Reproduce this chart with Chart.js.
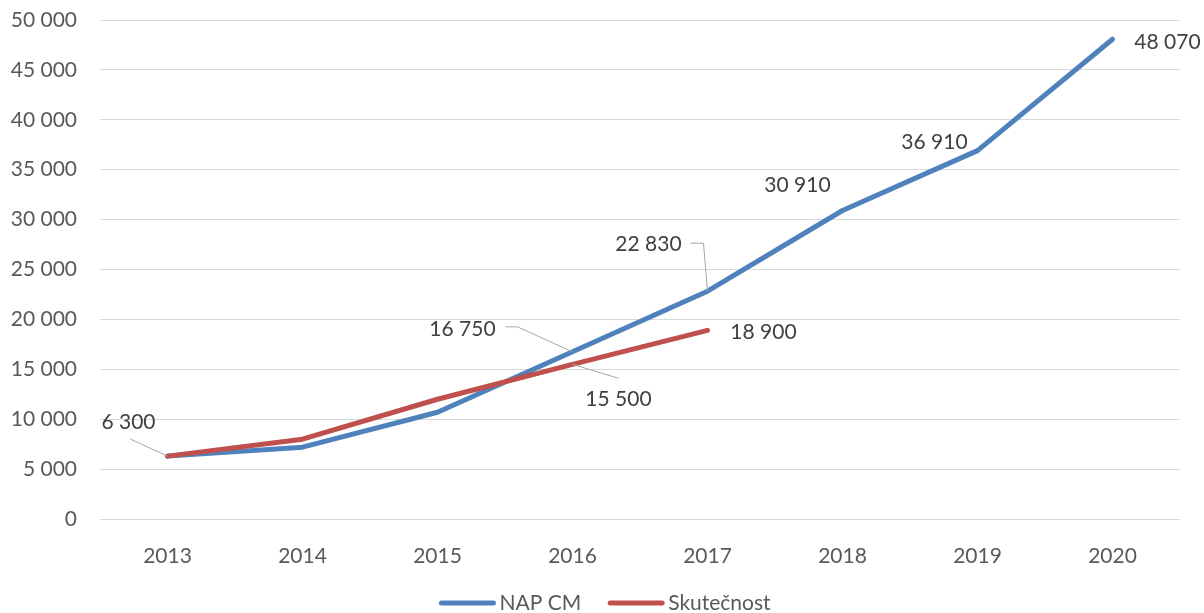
<!DOCTYPE html>
<html>
<head>
<meta charset="utf-8">
<title>NAP CM vs Skutečnost</title>
<script src="https://cdn.jsdelivr.net/npm/chart.js@4"></script>
<style>
    body { margin: 0; background: #fff; }
    canvas { display: block; }
</style>
</head>
<body>
<canvas id="lineCanvas" width="1204" height="613"></canvas>
<script>
// data
var years = ["2013", "2014", "2015", "2016", "2017", "2018", "2019", "2020"];
var napCm = [6300, 7200, 10700, 16750, 22830, 30910, 36910, 48070];
var skutecnost = [6300, 8000, 12000, 15500, 18900, null, null, null];
var seriesNames = ["NAP CM", "Skutečnost"];
var yMin = 0;
var yMax = 50000;
var yStep = 5000;

// which points carry a value label
var napLabelIdx = [0, 3, 4, 5, 6, 7];
var skutLabelIdx = [3, 4];

// label placement relative to its point (dx, dy of the text centre) and leader polyline
var labelPos = {
    "0-0": { dx: -39, dy: -34, leader: [[-37, -17], [0, 0]] },
    "0-3": { dx: -110, dy: -23, leader: [[-67, -25], [-55, -25], [0, 0]] },
    "0-4": { dx: -59, dy: -47, leader: [[-17, -48], [-4, -48], [0, 0]] },
    "0-5": { dx: -45, dy: -25 },
    "0-6": { dx: -43, dy: -8 },
    "0-7": { dx: 55, dy: 3 },
    "1-3": { dx: 46, dy: 35, leader: [[0, 0], [46, 14]] },
    "1-4": { dx: 56, dy: 2 }
};

var blue = "#4f81bd";
var red = "#c0504d";
var fontName = "Lato, 'Open Sans', sans-serif";

function fmt(v) {
    return String(v).replace(/\B(?=(\d{3})+(?!\d))/g, " ");
}

// hodnoty u bodů
var pointLabels = {
    id: "pointLabels",
    afterDatasetsDraw: function (chart) {
        var ctx = chart.ctx;
        var lists = [napLabelIdx, skutLabelIdx];
        ctx.save();
        ctx.font = "21px " + fontName;
        ctx.textAlign = "center";
        ctx.textBaseline = "middle";
        for (var d = 0; d < lists.length; d++) {
            var meta = chart.getDatasetMeta(d);
            var values = chart.data.datasets[d].data;
            for (var k = 0; k < lists[d].length; k++) {
                var i = lists[d][k];
                var pt = meta.data[i];
                var pos = labelPos[d + "-" + i];
                if (!pt || !pos) continue;
                if (pos.leader) {
                    ctx.strokeStyle = "#a6a6a6";
                    ctx.lineWidth = 1;
                    ctx.beginPath();
                    for (var j = 0; j < pos.leader.length; j++) {
                        var lx = pt.x + pos.leader[j][0];
                        var ly = pt.y + pos.leader[j][1];
                        if (j == 0) ctx.moveTo(lx, ly); else ctx.lineTo(lx, ly);
                    }
                    ctx.stroke();
                }
                ctx.fillStyle = "#404040";
                ctx.fillText(fmt(values[i]), pt.x + pos.dx, pt.y + pos.dy);
            }
        }
        ctx.restore();
    }
};

// legenda dole
var bottomLegend = {
    id: "bottomLegend",
    afterDraw: function (chart) {
        var ctx = chart.ctx;
        var colors = [blue, red];
        var lineLen = 56, gap = 4, spacing = 27;
        ctx.save();
        ctx.font = "21px " + fontName;
        ctx.textBaseline = "middle";
        ctx.textAlign = "left";
        var total = 0;
        var widths = [];
        for (var i = 0; i < seriesNames.length; i++) {
            widths[i] = ctx.measureText(seriesNames[i]).width;
            total += lineLen + gap + widths[i];
        }
        total += spacing * (seriesNames.length - 1);
        var x = (chart.width - total) / 2 + 3;
        var y = 603;
        for (var i = 0; i < seriesNames.length; i++) {
            ctx.strokeStyle = colors[i];
            ctx.lineWidth = 5;
            ctx.lineCap = "round";
            ctx.beginPath();
            ctx.moveTo(x + 2, y);
            ctx.lineTo(x + lineLen - 2, y);
            ctx.stroke();
            ctx.fillStyle = "#595959";
            ctx.fillText(seriesNames[i], x + lineLen + gap, y);
            x += lineLen + gap + widths[i] + spacing;
        }
        ctx.restore();
    }
};

var ctx = document.getElementById("lineCanvas");
var lineChart = new Chart(ctx, {
    type: "line",
    data: {
        labels: years,
        datasets: [{
            label: seriesNames[0],
            data: napCm,
            borderColor: blue,
            backgroundColor: blue,
            borderWidth: 5,
            borderCapStyle: "round",
            borderJoinStyle: "round",
            pointRadius: 0,
            tension: 0,
            order: 1
        }, {
            label: seriesNames[1],
            data: skutecnost,
            borderColor: red,
            backgroundColor: red,
            borderWidth: 5,
            borderCapStyle: "round",
            borderJoinStyle: "round",
            pointRadius: 0,
            tension: 0,
            order: 0
        }]
    },
    options: {
        responsive: false,
        animation: false,
        devicePixelRatio: 1,
        layout: {
            padding: { top: 20, right: 24, left: 0, bottom: 0 }
        },
        plugins: {
            legend: { display: false },
            tooltip: { enabled: false }
        },
        scales: {
            x: {
                offset: true,
                grid: { display: false },
                border: { display: false },
                ticks: {
                    color: "#595959",
                    font: { family: fontName, size: 21 },
                    padding: 17
                },
                afterFit: function (scale) {
                    scale.height = 94;
                    scale.paddingLeft = 0;
                    scale.paddingRight = 0;
                }
            },
            y: {
                min: yMin,
                max: yMax,
                grid: { color: "#d9d9d9", lineWidth: 1, drawTicks: false },
                border: { display: false },
                ticks: {
                    stepSize: yStep,
                    color: "#595959",
                    font: { family: fontName, size: 21 },
                    padding: 23,
                    callback: function (v) { return fmt(v); }
                },
                afterFit: function (scale) {
                    scale.width = 100;
                    scale.paddingTop = 0;
                    scale.paddingBottom = 0;
                }
            }
        }
    },
    plugins: [pointLabels, bottomLegend]
});
</script>
</body>
</html>
